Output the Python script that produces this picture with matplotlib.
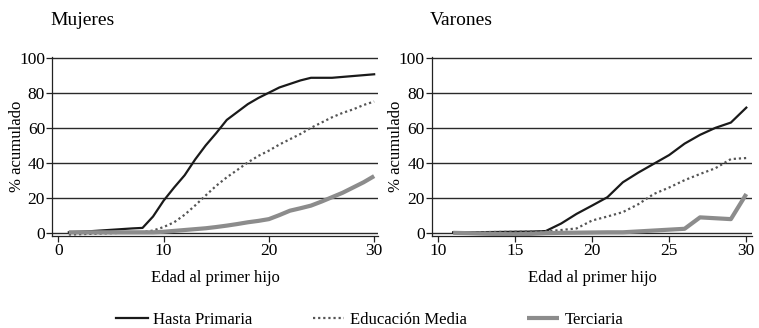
import matplotlib
matplotlib.use('Agg')
import matplotlib.pyplot as plt

plt.rcParams['font.family'] = ['Liberation Serif', 'DejaVu Serif']

# Mujeres
edad_m = list(range(1, 31))
prim_m = [0.5, 0.8, 1.1, 1.5, 1.9, 2.3, 2.7, 3.0, 9.5, 18.5, 26, 33, 42, 50, 57, 64.5, 69,
          73.5, 77, 80, 83, 85, 87, 88.5, 88.5, 88.5, 89, 89.5, 90, 90.5]
media_m = [-0.8, -0.6, -0.4, -0.2, 0, 0.2, 0.4, 0.6, 1.5, 3.5, 6.2, 10.5, 15.8, 21.5, 27, 31.8,
           36, 40.3, 44, 47, 50.5, 53.5, 56.5, 60, 63, 66, 68.5, 70.5, 73, 75]
terc_m = [0.5, 0.5, 0.5, 0.5, 0.5, 0.5, 0.5, 0.5, 0.5, 0.8, 1.3, 1.8, 2.3, 2.8, 3.5, 4.3,
          5.2, 6.2, 7.0, 8.0, 10.3, 12.8, 14.2, 15.7, 18, 20.5, 23, 26, 29, 32.5]

# Varones
edad_v = list(range(11, 31))
prim_v = [0.5, 0.5, 0.6, 0.7, 0.8, 0.9, 1.2, 5.5, 11, 15.7, 20.5, 29, 34.5, 39.5, 44.5, 51,
          56, 60, 63, 71.5]
media_v = [0.5, 0.5, 0.6, 0.7, 0.8, 0.9, 1.0, 1.8, 2.7, 7.2, 9.5, 12, 16.5, 22.3, 26, 30.2,
           33.7, 37, 42.2, 42.8]
terc_v = [0.2, 0.0, -0.3, -0.5, -0.6, -0.4, 0.0, 0.2, 0.3, 0.4, 0.5, 0.5, 1.0, 1.5, 2.0, 2.5,
          9.0, 8.5, 8.0, 22.3]

series = ['Hasta Primaria', 'Educación Media', 'Terciaria']
estilos = [dict(color='#1a1a1a', lw=1.6, ls='-'),
           dict(color='#555555', lw=1.6, ls=(0, (1, 1.3))),
           dict(color='#8c8c8c', lw=3.0, ls='-', solid_capstyle='butt')]

fig = plt.figure(figsize=(7.59, 3.28), dpi=100)
ax1 = fig.add_axes([0.0685, 0.280, 0.430, 0.546])
ax2 = fig.add_axes([0.569, 0.280, 0.422, 0.546])

paneles = [(ax1, 'Mujeres', edad_m, [prim_m, media_m, terc_m], (-0.6, 30.4), [0, 10, 20, 30]),
           (ax2, 'Varones', edad_v, [prim_v, media_v, terc_v], (9.62, 30.38), [10, 15, 20, 25, 30])]

for ax, titulo, x, ys, xlim, xt in paneles:
    for yv in range(0, 101, 20):
        ax.axhline(yv, color='#2a2a2a', lw=1.0, zorder=1)
    handles = []
    for y, st, nom in zip(ys, estilos, series):
        h, = ax.plot(x, y, label=nom, zorder=3, **st)
        handles.append(h)
    ax.set_xlim(*xlim)
    ax.set_ylim(-1.7, 100.3)
    ax.set_xticks(xt)
    ax.set_yticks(range(0, 101, 20))
    for s in ['top', 'right']:
        ax.spines[s].set_visible(False)
    for s in ['left', 'bottom']:
        ax.spines[s].set_linewidth(0.9)
        ax.spines[s].set_color('#222222')
    ax.tick_params(labelsize=12.5, length=4, width=0.9, color='#222222', pad=1)
    ax.set_ylabel('% acumulado', fontsize=12, labelpad=-4)
    ax.set_xlabel('Edad al primer hijo', fontsize=12, labelpad=8)
    ax.text(-0.005, 1.155, titulo, transform=ax.transAxes, fontsize=14, ha='left', va='bottom')

fig.legend(handles, series, loc='lower left', bbox_to_anchor=(0.133, -0.045), ncol=3,
           frameon=False, fontsize=12, handlelength=1.9, handletextpad=0.35, columnspacing=3.6)

fig.savefig('out.png', dpi=100)
